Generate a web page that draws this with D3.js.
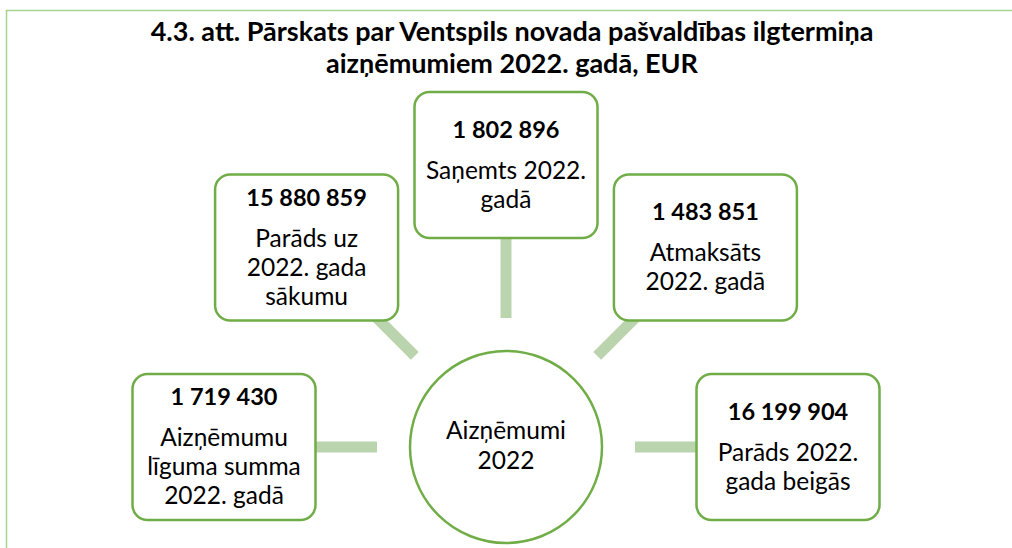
<!DOCTYPE html>
<html>
<head>
<meta charset="utf-8">
<script src="https://cdn.jsdelivr.net/npm/d3@7"></script>
<style>
  html, body { margin: 0; padding: 0; background: #fff; }
  text { font-family: Lato, "Open Sans", sans-serif; fill: #000; }
</style>
</head>
<body>
<script>
// chart data
const titleLines = ['4.3. att. Pārskats par Ventspils novada pašvaldības ilgtermiņa', 'aizņēmumiem 2022. gadā, EUR'];
const centerLabel = ['Aizņēmumi', '2022'];
const amounts = [1719430, 15880859, 1802896, 1483851, 16199904];
const labels = [
    ['Aizņēmumu', 'līguma summa', '2022. gadā'],
    ['Parāds uz', '2022. gada', 'sākumu'],
    ['Saņemts 2022.', 'gadā'],
    ['Atmaksāts', '2022. gadā'],
    ['Parāds 2022.', 'gada beigās']
];

const width = 1012, height = 548;
const cx = 506, cy = 447;
const ringR = 282, circleR = 96, lineStart = 129;
const boxW = 183, boxH = 146;

const svg = d3.select('body').append('svg')
    .attr('width', width)
    .attr('height', height);

// frame
svg.append('path')
    .attr('d', `M6.5,${height} V10.5 H${width}`)
    .attr('fill', 'none')
    .attr('stroke', '#a9d18e')
    .attr('stroke-width', 1.5);

// title
svg.append('g').selectAll('text')
    .data(titleLines)
    .enter()
    .append('text')
    .attr('x', 512)
    .attr('y', (d, i) => 41 + i * 32)
    .attr('text-anchor', 'middle')
    .style('font-size', '27px')
    .style('font-weight', 'bold')
    .text(d => d);

// angle of each box around the centre
const angle = d3.scalePoint()
    .domain(d3.range(amounts.length))
    .range([Math.PI, 0]);

const px = (i, r) => cx + r * Math.cos(angle(i));
const py = (i, r) => cy - r * Math.sin(angle(i));

// connectors
svg.append('g').selectAll('line')
    .data(amounts)
    .enter()
    .append('line')
    .attr('x1', (d, i) => px(i, lineStart))
    .attr('y1', (d, i) => py(i, lineStart))
    .attr('x2', (d, i) => px(i, ringR))
    .attr('y2', (d, i) => py(i, ringR))
    .attr('stroke', '#bad4ad')
    .attr('stroke-width', 11);

// centre circle
svg.append('circle')
    .attr('cx', cx)
    .attr('cy', cy)
    .attr('r', circleR)
    .attr('fill', '#fff')
    .attr('stroke', '#70ad47')
    .attr('stroke-width', 2.5);

svg.append('g').selectAll('text')
    .data(centerLabel)
    .enter()
    .append('text')
    .attr('x', cx)
    .attr('y', (d, i) => cy - 8 + i * 30)
    .attr('text-anchor', 'middle')
    .style('font-size', '24.5px')
    .text(d => d);

const fmt = v => d3.format(',')(v).replace(/,/g, ' ');

// boxes
const boxes = svg.append('g').selectAll('g')
    .data(amounts)
    .enter()
    .append('g')
    .attr('transform', (d, i) => `translate(${px(i, ringR)},${py(i, ringR)})`);

boxes.append('rect')
    .attr('x', -boxW / 2)
    .attr('y', -boxH / 2)
    .attr('width', boxW)
    .attr('height', boxH)
    .attr('rx', 15)
    .attr('fill', '#fff')
    .attr('stroke', '#70ad47')
    .attr('stroke-width', 2.5);

boxes.append('text')
    .attr('text-anchor', 'middle')
    .attr('y', (d, i) => -13 - (labels[i].length - 1) * 14.5)
    .style('font-size', '23.5px')
    .style('font-weight', 'bold')
    .text(d => fmt(d));

boxes.each(function (d, i) {
    const n = labels[i].length;
    const top = -13 - (n - 1) * 14.5;
    d3.select(this).selectAll('text.lbl')
        .data(labels[i])
        .enter()
        .append('text')
        .attr('class', 'lbl')
        .attr('text-anchor', 'middle')
        .attr('y', (t, j) => top + 41 + j * 29)
        .style('font-size', '24.5px')
        .text(t => t);
});
</script>
</body>
</html>
